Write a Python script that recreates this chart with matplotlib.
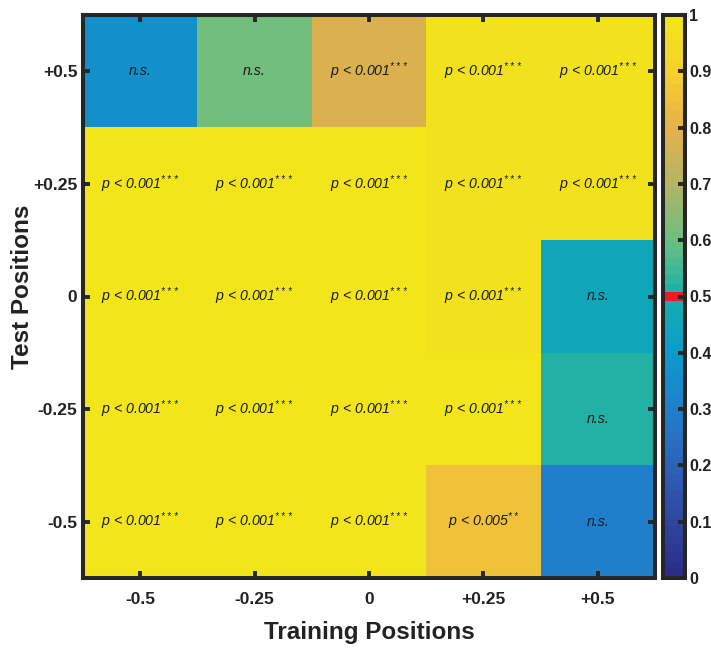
import numpy as np
import matplotlib
matplotlib.use('Agg')
import matplotlib.pyplot as plt
from matplotlib.colors import LinearSegmentedColormap, ListedColormap

plt.rcParams['font.family'] = 'Liberation Sans'
plt.rcParams['mathtext.fontset'] = 'custom'
plt.rcParams['mathtext.rm'] = 'Liberation Sans:italic'
plt.rcParams['mathtext.it'] = 'Liberation Sans:italic'

train_labels = ['-0.5', '-0.25', '0', '+0.25', '+0.5']
test_labels = ['+0.5', '+0.25', '0', '-0.25', '-0.5']

# decoding accuracy, rows = test position (top to bottom), cols = training position
acc_pos05 = [0.36, 0.61, 0.77, 0.98, 0.97]
acc_pos025 = [0.99, 0.99, 0.99, 0.98, 0.98]
acc_zero = [0.99, 0.99, 0.99, 0.98, 0.45]
acc_neg025 = [0.99, 0.99, 0.99, 0.99, 0.52]
acc_neg05 = [0.99, 0.99, 0.99, 0.85, 0.30]

P3 = 'p < 0.001$^{***}$'
sig_pos05 = ['n.s.', 'n.s.', P3, P3, P3]
sig_pos025 = [P3, P3, P3, P3, P3]
sig_zero = [P3, P3, P3, P3, 'n.s.']
sig_neg025 = [P3, P3, P3, P3, 'n.s.']
sig_neg05 = [P3, P3, P3, 'p < 0.005$^{**}$', 'n.s.']

acc = np.array([acc_pos05, acc_pos025, acc_zero, acc_neg025, acc_neg05])
sig = [sig_pos05, sig_pos025, sig_zero, sig_neg025, sig_neg05]

# parula-like map, 65 steps with the chance level (0.5) marked in red
anchors = ['#2C2C8A', '#2F47A0', '#2D63BA', '#1F80CC', '#0B9BCB', '#14B0AC',
           '#6CBF80', '#B0B566', '#E6B04A', '#F6CF2E', '#F2E61A']
base = LinearSegmentedColormap.from_list('par', anchors, N=65)
cols = base(np.linspace(0, 1, 65))
cols[32] = [0.93, 0.11, 0.14, 1.0]
cmap = ListedColormap(cols)

edge = '#262626'
fig = plt.figure(figsize=(7.11, 6.51), dpi=100)
ax = fig.add_axes([83 / 711, 1 - 578 / 651, 572 / 711, 563 / 651])
cax = fig.add_axes([663 / 711, 1 - 578 / 651, 22 / 711, 563 / 651])

im = ax.imshow(acc, cmap=cmap, vmin=0, vmax=1, aspect='auto', interpolation='nearest')

for r in range(5):
    for c in range(5):
        dy = 0.09 if (r == 3 and c == 4) else 0
        ax.text(c, r + dy, sig[r][c], ha='center', va='center', fontsize=10.2,
                style='italic', color='#1a1a1a')

ax.set_xticks(range(5))
ax.set_xticklabels(train_labels, fontweight='bold')
ax.set_yticks(range(5))
ax.set_yticklabels(test_labels, fontweight='bold')
ax.tick_params(axis='x', direction='in', length=5, width=2.8, color=edge,
               top=True, labelsize=12.5, pad=10, labelcolor='#222222')
ax.tick_params(axis='y', direction='in', length=5, width=2.8, color=edge,
               right=True, labelsize=12.5, pad=4, labelcolor='#222222')
for s in ax.spines.values():
    s.set_linewidth(2.9)
    s.set_color(edge)

ax.set_xlabel('Training Positions', fontsize=17.5, fontweight='bold',
              color='#222222', labelpad=10)
ax.set_ylabel('Test Positions', fontsize=17.5, fontweight='bold',
              color='#222222')
ax.yaxis.set_label_coords(-0.086, 0.517)

cb = fig.colorbar(im, cax=cax, ticks=np.round(np.arange(0, 1.01, 0.1), 1))
cb.ax.set_yticklabels(['0', '0.1', '0.2', '0.3', '0.4', '0.5', '0.6', '0.7',
                       '0.8', '0.9', '1'], fontweight='bold')
cax.tick_params(direction='in', length=5, width=2.8, color=edge,
                labelsize=11.5, pad=3, labelcolor='#222222')
cb.outline.set_linewidth(2.9)
cb.outline.set_edgecolor(edge)

fig.savefig('out.png', dpi=100)
